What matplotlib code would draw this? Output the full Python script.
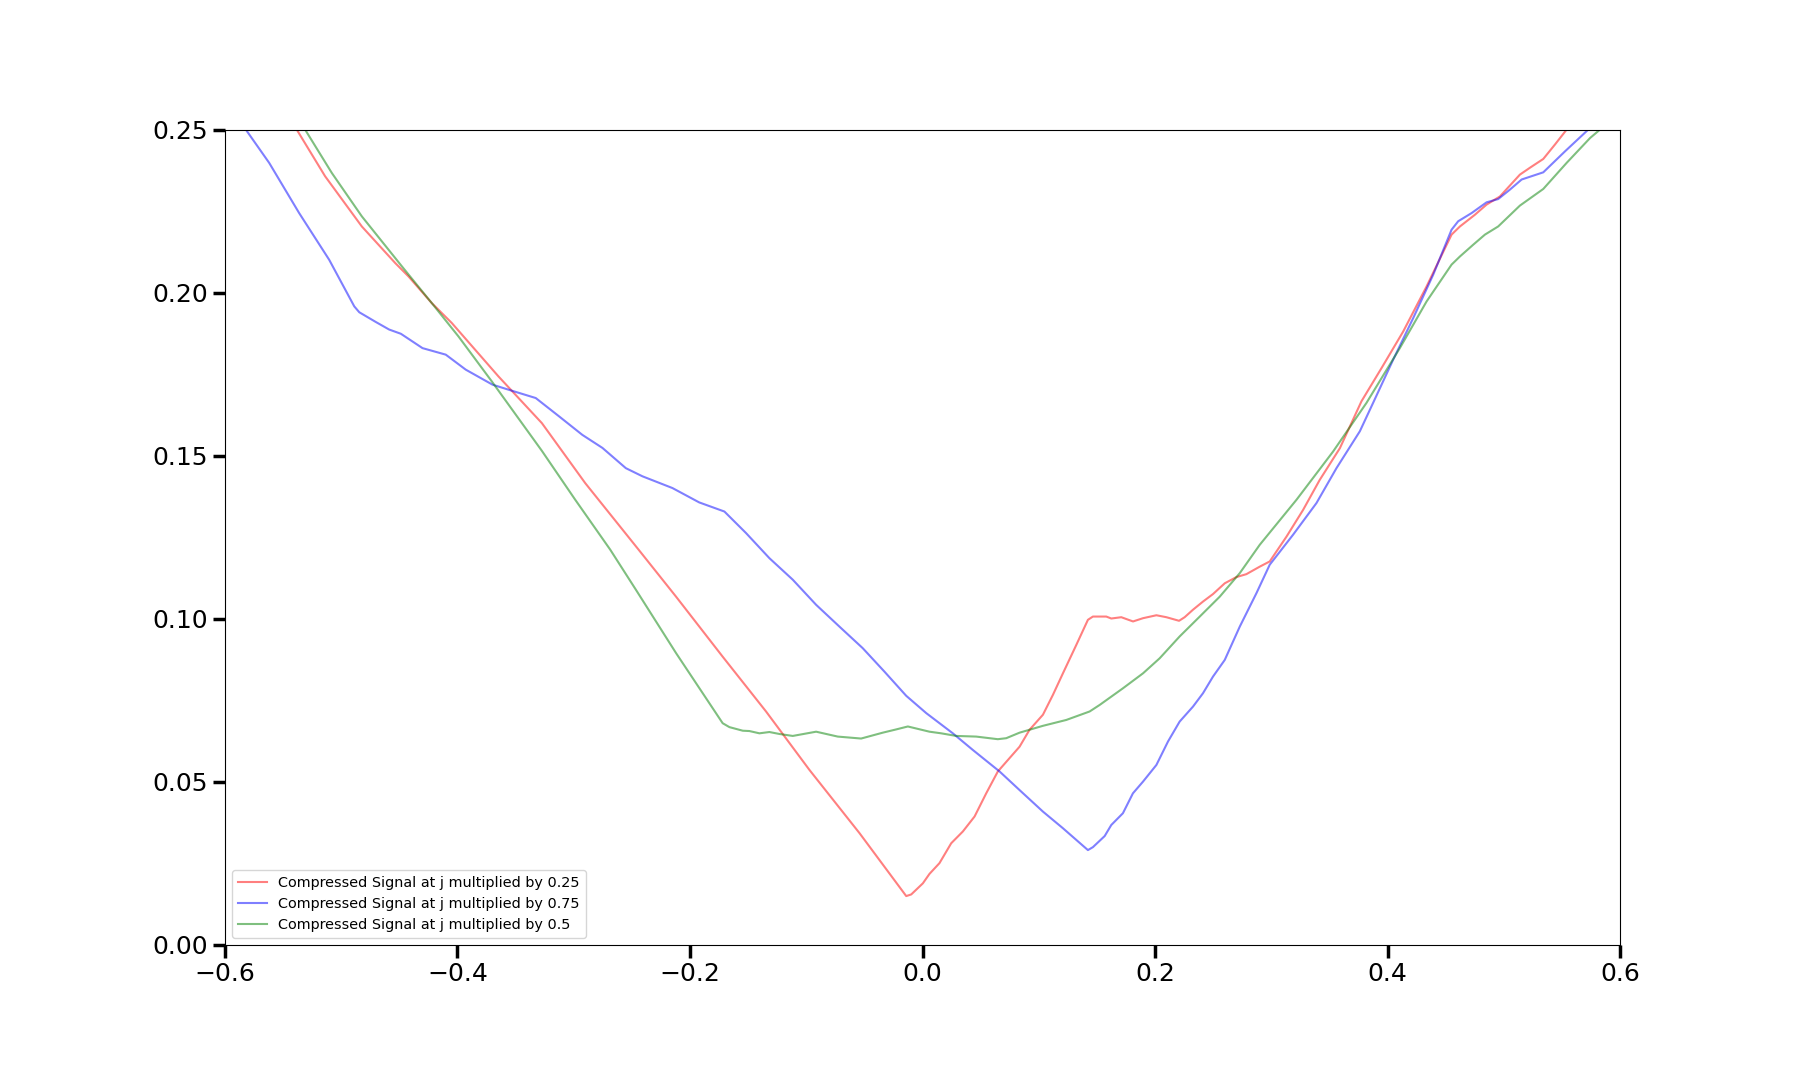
import matplotlib
matplotlib.use('Agg')
import matplotlib.pyplot as plt
import numpy as np

# valores
x_025 = [-0.56, -0.5383, -0.5139, -0.4823, -0.4536, -0.4422, -0.4221, -0.4049, -0.3647, -0.3274,
         -0.2901, -0.2442, -0.2120, -0.1719, -0.1346, -0.0973, -0.0542, -0.0140, -0.0097, 0.0003,
         0.006, 0.0146, 0.0247, 0.0347, 0.0448, 0.0548, 0.0648, 0.0734, 0.0835, 0.0921,
         0.1036, 0.1122, 0.1208, 0.1323, 0.1423, 0.1466, 0.1581, 0.1624, 0.1710, 0.1811,
         0.1897, 0.2012, 0.2098, 0.2207, 0.2255, 0.2327, 0.2413, 0.2499, 0.2600, 0.2700,
         0.2786, 0.2901, 0.2987, 0.3131, 0.3274, 0.3417, 0.3590, 0.3776, 0.3949, 0.4135,
         0.4336, 0.4551, 0.4623, 0.4752, 0.4852, 0.4967, 0.5139, 0.5225, 0.5340, 0.5440,
         0.5541, 0.57]
y_025 = [0.263, 0.25, 0.2357, 0.2203, 0.2091, 0.2050, 0.1968, 0.1907, 0.1743, 0.1600,
         0.1416, 0.1212, 0.1068, 0.0884, 0.0716, 0.0537, 0.0343, 0.0150, 0.0155, 0.0189,
         0.0218, 0.0251, 0.0312, 0.0348, 0.0394, 0.0465, 0.0532, 0.0567, 0.0608, 0.0660,
         0.0706, 0.0767, 0.0833, 0.0920, 0.0997, 0.1007, 0.1007, 0.1001, 0.1005, 0.0992,
         0.1002, 0.1011, 0.1005, 0.0994, 0.1005, 0.1028, 0.1053, 0.1076, 0.1109, 0.1128,
         0.1137, 0.1160, 0.1176, 0.1252, 0.1334, 0.1426, 0.1523, 0.1667, 0.1769, 0.1881,
         0.2019, 0.2178, 0.2203, 0.2239, 0.2270, 0.2295, 0.2362, 0.2383, 0.2410, 0.2454,
         0.25, 0.258]

x_075 = [-0.60, -0.5821, -0.5620, -0.5362, -0.5104, -0.4888, -0.4845, -0.4702, -0.4588, -0.4487,
         -0.4301, -0.4101, -0.3929, -0.3699, -0.3556, -0.3327, -0.3127, -0.2926, -0.2753, -0.2552,
         -0.2409, -0.2151, -0.1921, -0.1704, -0.1518, -0.1317, -0.1116, -0.0915, -0.0714, -0.0514,
         -0.0327, -0.0140, 0.0032, 0.0261, 0.0433, 0.0663, 0.0835, 0.1036, 0.1208, 0.1423,
         0.1466, 0.1567, 0.1624, 0.1724, 0.1810, 0.1897, 0.2012, 0.2112, 0.2212, 0.2327,
         0.2413, 0.2499, 0.2600, 0.2729, 0.2873, 0.2987, 0.3188, 0.3389, 0.3561, 0.3762,
         0.3876, 0.4048, 0.4221, 0.4393, 0.4551, 0.4608, 0.4723, 0.4766, 0.4852, 0.4952,
         0.5053, 0.5154, 0.5340, 0.5526, 0.5727, 0.59]
y_075 = [0.259, 0.25, 0.2398, 0.2244, 0.2101, 0.1958, 0.1940, 0.1910, 0.1887, 0.1874,
         0.1830, 0.1810, 0.1764, 0.1718, 0.1702, 0.1677, 0.1621, 0.1564, 0.1524, 0.1462,
         0.1437, 0.1401, 0.1357, 0.1329, 0.1263, 0.1186, 0.1120, 0.1043, 0.0976, 0.0910,
         0.0838, 0.0764, 0.0711, 0.0649, 0.0598, 0.0532, 0.0475, 0.0409, 0.0358, 0.0291,
         0.0300, 0.0334, 0.0368, 0.0404, 0.0465, 0.0501, 0.0552, 0.0624, 0.0685, 0.0731,
         0.0772, 0.0823, 0.0874, 0.0976, 0.1079, 0.1166, 0.1258, 0.1355, 0.1462, 0.1575,
         0.1662, 0.1794, 0.1922, 0.2055, 0.2193, 0.2219, 0.2244, 0.2255, 0.2277, 0.2287,
         0.2316, 0.2347, 0.2369, 0.2433, 0.25, 0.256]

x_05 = [-0.55, -0.5311, -0.5081, -0.4823, -0.4479, -0.4221, -0.3992, -0.3705, -0.3274, -0.2987,
        -0.2686, -0.2465, -0.2120, -0.1719, -0.1661, -0.1546, -0.1489, -0.1403, -0.1317,
        -0.1231, -0.1116, -0.0915, -0.0729, -0.0528, -0.0342, -0.0226, -0.0126, 0.0060, 0.0161,
        0.0290, 0.0462, 0.0648, 0.0720, 0.0835, 0.1036, 0.1237, 0.1438, 0.1524, 0.1724,
        0.1897, 0.2040, 0.2212, 0.2385, 0.2557, 0.2729, 0.2901, 0.3217, 0.3532, 0.3819,
        0.4106, 0.4336, 0.4551, 0.4623, 0.4737, 0.4838, 0.4952, 0.5139, 0.5340, 0.5541,
        0.5742, 0.5828, 0.60]
y_05 = [0.263, 0.25, 0.2367, 0.2234, 0.2081, 0.1968, 0.1866, 0.1728, 0.1515, 0.1365,
        0.1212, 0.1089, 0.0895, 0.0680, 0.0668, 0.0657, 0.0656, 0.0649, 0.0653,
        0.0647, 0.0641, 0.0654, 0.0639, 0.0633, 0.0651, 0.0661, 0.0670, 0.0654, 0.0649,
        0.0641, 0.0639, 0.0631, 0.0634, 0.0651, 0.0672, 0.0690, 0.0716, 0.0736, 0.0787,
        0.0833, 0.0879, 0.0946, 0.1007, 0.1068, 0.1140, 0.1227, 0.1365, 0.1513, 0.1662,
        0.1830, 0.1973, 0.2086, 0.2111, 0.2147, 0.2178, 0.2203, 0.2267, 0.2318, 0.2398,
        0.2474, 0.25, 0.256]

fig, ax = plt.subplots(figsize=(18, 10.8), dpi=100)
fig.subplots_adjust(bottom=0.125)

ax.plot(x_025, y_025, color='r', alpha=0.5, label='Compressed Signal at j multiplied by 0.25')
ax.plot(x_075, y_075, color='b', alpha=0.5, label='Compressed Signal at j multiplied by 0.75')
ax.plot(x_05, y_05, color='g', alpha=0.5, label='Compressed Signal at j multiplied by 0.5')

ax.set_xlim(-0.6, 0.6)
ax.set_ylim(0, 0.25)
ax.tick_params(labelsize=18, length=9, width=2.5)
ax.legend(loc='lower left', fontsize=10.4)

plt.savefig('out.png')
